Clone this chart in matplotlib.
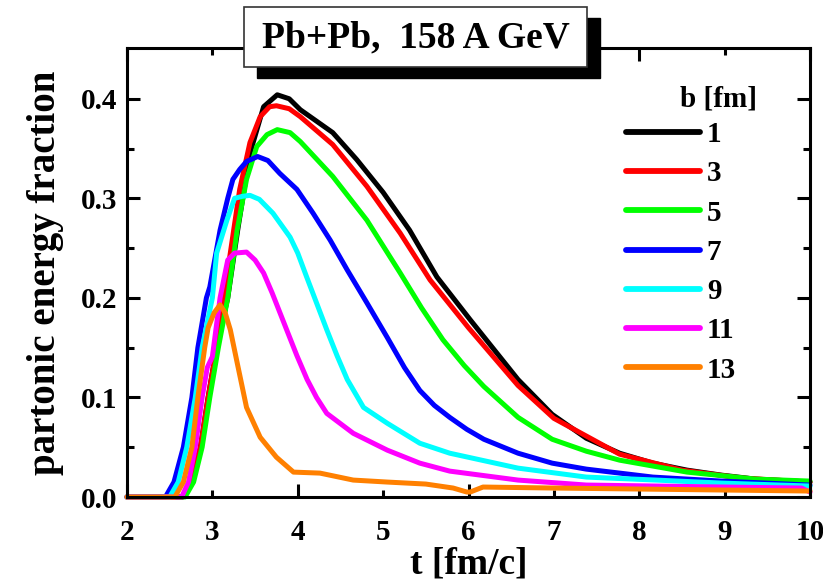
import matplotlib.pyplot as plt
from matplotlib.patches import Rectangle

# impact parameter b [fm] and colours
b_labels = ['1', '3', '5', '7', '9', '11', '13']
colors = ['#000000', '#ff0000', '#00ff00', '#0000ff', '#00ffff', '#ff00ff', '#ff8000']

# partonic energy fraction vs time t [fm/c]
t_b1 = [2.0, 2.65, 2.75, 2.86, 2.95, 3.05, 3.18, 3.3, 3.44, 3.6, 3.76, 3.9, 4.03, 4.41,
        4.69, 5.0, 5.31, 5.63, 6.02, 6.58, 6.98, 7.38, 7.77, 8.16, 8.56, 8.96, 9.36, 10.0]
f_b1 = [0.0, 0.0, 0.015, 0.05, 0.1, 0.15, 0.2, 0.27, 0.345, 0.392, 0.404, 0.4, 0.389, 0.366,
        0.339, 0.306, 0.268, 0.221, 0.178, 0.118, 0.083, 0.059, 0.044, 0.034, 0.027, 0.022, 0.018, 0.015]

t_b3 = [2.0, 2.65, 2.75, 2.86, 2.95, 3.05, 3.21, 3.32, 3.44, 3.56, 3.67, 3.75, 3.9, 4.03,
        4.41, 4.81, 5.2, 5.55, 6.0, 6.58, 7.0, 7.77, 8.5, 9.2, 10.0]
f_b3 = [0.0, 0.0, 0.015, 0.05, 0.1, 0.15, 0.245, 0.309, 0.356, 0.382, 0.392, 0.393, 0.39, 0.382,
        0.354, 0.312, 0.265, 0.218, 0.17, 0.112, 0.079, 0.043, 0.027, 0.019, 0.015]

t_b5 = [2.0, 2.68, 2.78, 2.88, 2.97, 3.07, 3.18, 3.29, 3.4, 3.52, 3.64, 3.76, 3.91, 4.03,
        4.41, 4.81, 5.2, 5.45, 5.7, 5.95, 6.18, 6.58, 6.98, 7.38, 7.77, 8.56, 9.36, 10.0]
f_b5 = [0.0, 0.0, 0.015, 0.05, 0.1, 0.15, 0.2, 0.268, 0.319, 0.352, 0.364, 0.369, 0.366, 0.357,
        0.322, 0.278, 0.225, 0.19, 0.158, 0.132, 0.111, 0.08, 0.058, 0.046, 0.037, 0.025, 0.018, 0.016]

t_b7 = [2.0, 2.45, 2.55, 2.66, 2.76, 2.83, 2.93, 2.97, 3.09, 3.18, 3.24, 3.32, 3.4, 3.53,
        3.65, 3.79, 3.99, 4.18, 4.38, 4.58, 4.81, 5.05, 5.25, 5.43, 5.6, 5.78, 5.98, 6.18,
        6.58, 6.98, 7.38, 8.16, 8.96, 10.0]
f_b7 = [0.0, 0.0, 0.015, 0.05, 0.1, 0.15, 0.2, 0.211, 0.268, 0.3, 0.319, 0.329, 0.337, 0.342,
        0.338, 0.325, 0.309, 0.285, 0.258, 0.228, 0.195, 0.16, 0.13, 0.107, 0.092, 0.08, 0.068,
        0.058, 0.044, 0.034, 0.028, 0.02, 0.016, 0.012]

t_b9 = [2.0, 2.5, 2.6, 2.7, 2.8, 2.88, 3.0, 3.05, 3.17, 3.26, 3.35, 3.44, 3.55, 3.71, 3.91,
        4.0, 4.1, 4.22, 4.34, 4.46, 4.58, 4.77, 5.05, 5.43, 5.78, 6.58, 7.38, 8.2, 8.96, 10.0]
f_b9 = [0.0, 0.0, 0.015, 0.05, 0.1, 0.15, 0.2, 0.245, 0.278, 0.3, 0.302, 0.303, 0.299, 0.285,
        0.261, 0.245, 0.222, 0.195, 0.168, 0.142, 0.118, 0.09, 0.074, 0.054, 0.044, 0.029, 0.02,
        0.017, 0.014, 0.011]

t_b11 = [2.0, 2.64, 2.72, 2.8, 2.88, 2.94, 3.0, 3.09, 3.18, 3.26, 3.4, 3.5, 3.6, 3.7, 3.87,
         3.99, 4.11, 4.22, 4.34, 4.65, 5.05, 5.43, 5.78, 6.58, 7.38, 8.2, 9.0, 9.9, 10.0]
f_b11 = [0.0, 0.0, 0.015, 0.05, 0.1, 0.13, 0.141, 0.2, 0.238, 0.245, 0.246, 0.238, 0.225, 0.205,
         0.168, 0.142, 0.118, 0.1, 0.084, 0.064, 0.047, 0.034, 0.026, 0.017, 0.012, 0.011, 0.01,
         0.009, 0.005]

t_b13 = [2.0, 2.56, 2.66, 2.76, 2.83, 2.91, 2.95, 3.02, 3.09, 3.15, 3.21, 3.29, 3.4, 3.56,
         3.75, 3.95, 4.26, 4.65, 5.05, 5.5, 5.82, 5.98, 6.02, 6.17, 7.0, 8.0, 9.0, 10.0]
f_b13 = [0.0, 0.0, 0.015, 0.05, 0.1, 0.15, 0.17, 0.185, 0.193, 0.185, 0.168, 0.135, 0.09, 0.06,
         0.04, 0.025, 0.024, 0.017, 0.015, 0.013, 0.009, 0.005, 0.005, 0.01, 0.009, 0.008, 0.007, 0.006]

times = [t_b1, t_b3, t_b5, t_b7, t_b9, t_b11, t_b13]
fracs = [f_b1, f_b3, f_b5, f_b7, f_b9, f_b11, f_b13]

plt.rcParams['font.family'] = ['Liberation Serif', 'DejaVu Serif']
plt.rcParams['font.weight'] = 'bold'

fig = plt.figure(figsize=(8.23, 5.87), dpi=100)
ax = fig.add_axes([127 / 823, 90 / 587, 683 / 823, 449 / 587])

for t, f, c, lab in zip(times, fracs, colors, b_labels):
    ax.plot(t, f, color=c, lw=3.6, label=lab, clip_on=False,
            solid_joinstyle='round', solid_capstyle='round')

ax.set_xlim(2, 10)
ax.set_ylim(0, 0.451)

ax.set_xticks([2, 4, 6, 8, 10])
ax.set_xticks([3, 5, 7, 9], minor=True)
ax.set_xticklabels(['2', '4', '6', '8', '10'])
ax.set_xticklabels(['3', '5', '7', '9'], minor=True)
ax.set_yticks([0.0, 0.1, 0.2, 0.3, 0.4])
ax.set_yticks([0.05, 0.15, 0.25, 0.35], minor=True)
ax.set_yticklabels(['0.0', '0.1', '0.2', '0.3', '0.4'])

ax.tick_params(which='both', direction='in', top=True, right=True, width=2.2, labelsize=21)
ax.tick_params(which='major', length=9.5)
ax.tick_params(which='minor', length=5)
ax.tick_params(axis='x', which='both', pad=16)
ax.tick_params(axis='y', which='both', pad=7)
for s in ax.spines.values():
    s.set_linewidth(2.2)

ax.set_xlabel('t [fm/c]', fontsize=27, fontweight='bold', labelpad=0)
ax.set_ylabel('partonic energy fraction', fontsize=28, fontweight='bold', labelpad=12)

leg = ax.legend(loc='upper left', bbox_to_anchor=(626 / 823, 1 - 121 / 587),
                bbox_transform=fig.transFigure, frameon=False, fontsize=21,
                handlelength=2.55, handletextpad=0.22, labelspacing=0.42,
                borderpad=0, borderaxespad=0)
for line in leg.get_lines():
    line.set_linewidth(4.2)
fig.text(718 / 823, 1 - 99 / 587, 'b [fm]', fontsize=21, fontweight='bold',
         ha='center', va='center')

# title box with drop shadow
fig.add_artist(Rectangle((257 / 823, 1 - 78 / 587), 343 / 823, 60 / 587,
                         transform=fig.transFigure, facecolor='black', edgecolor='black'))
fig.add_artist(Rectangle((244 / 823, 1 - 67 / 587), 343 / 823, 60 / 587,
                         transform=fig.transFigure, facecolor='white', edgecolor='#333333',
                         lw=1.2))
fig.text(416 / 823, 1 - 38 / 587, 'Pb+Pb,  158 A GeV', fontsize=27, fontweight='bold',
         ha='center', va='center', zorder=5)

plt.savefig('out.png', dpi=100)
plt.close()
